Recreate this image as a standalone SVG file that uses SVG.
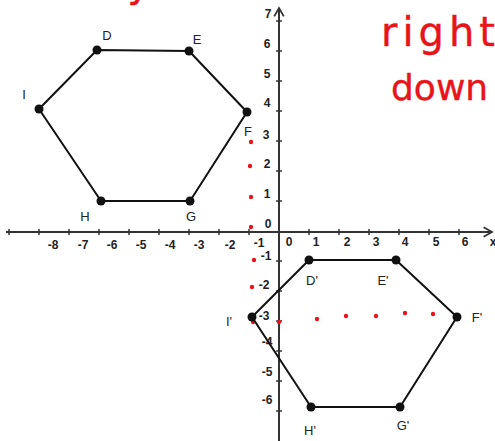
<svg xmlns="http://www.w3.org/2000/svg" width="495" height="441" viewBox="0 0 495 441">
<defs>
<style>
.axis{stroke:#333;stroke-width:2;fill:none}
.tick{stroke:#333;stroke-width:1.5}
.edge{stroke:#111;stroke-width:2;fill:none;stroke-linejoin:round}
.pt{fill:#111}
.lbl{font-family:"Liberation Sans",Arial,sans-serif;font-size:13px;fill:#222;text-anchor:middle}
.num{font-family:"Liberation Sans",Arial,sans-serif;font-size:12px;font-weight:bold;fill:#222;text-anchor:middle}
.red{fill:#e8141b}
.hand{font-family:"DejaVu Sans",sans-serif;fill:#e8141b;stroke:#e8141b;stroke-width:0.4}
</style>
<marker id="arr" viewBox="0 0 10 10" refX="8" refY="5" markerWidth="6" markerHeight="6" orient="auto-start-reverse">
<path d="M1,1 L8,5 L1,9" fill="none" stroke="#333" stroke-width="1.5"/>
</marker>
</defs>
<rect width="495" height="441" fill="#fff"/>

<g id="handwriting">
<text class="hand" x="139" y="-4" font-size="40" text-anchor="middle">y</text>
<text class="hand" x="381" y="46" font-size="40" letter-spacing="5">right</text>
<text class="hand" x="391" y="100" font-size="36">down</text>
</g>

<g id="axes">
<line class="axis" x1="6" y1="232" x2="492" y2="232" marker-end="url(#arr)"/>
<line class="axis" x1="279" y1="441" x2="279" y2="8" marker-end="url(#arr)"/>
<g class="tick">
<line x1="9" y1="229" x2="9" y2="235"/><line x1="39" y1="229" x2="39" y2="235"/><line x1="69" y1="229" x2="69" y2="235"/><line x1="99" y1="229" x2="99" y2="235"/><line x1="129" y1="229" x2="129" y2="235"/><line x1="159" y1="229" x2="159" y2="235"/><line x1="189" y1="229" x2="189" y2="235"/><line x1="219" y1="229" x2="219" y2="235"/><line x1="249" y1="229" x2="249" y2="235"/><line x1="309" y1="229" x2="309" y2="235"/><line x1="339" y1="229" x2="339" y2="235"/><line x1="369" y1="229" x2="369" y2="235"/><line x1="399" y1="229" x2="399" y2="235"/><line x1="429" y1="229" x2="429" y2="235"/><line x1="459" y1="229" x2="459" y2="235"/>
<line x1="276" y1="21" x2="282" y2="21"/><line x1="276" y1="51" x2="282" y2="51"/><line x1="276" y1="81" x2="282" y2="81"/><line x1="276" y1="111" x2="282" y2="111"/><line x1="276" y1="141" x2="282" y2="141"/><line x1="276" y1="171" x2="282" y2="171"/><line x1="276" y1="201" x2="282" y2="201"/><line x1="276" y1="261" x2="282" y2="261"/><line x1="276" y1="291" x2="282" y2="291"/><line x1="276" y1="321" x2="282" y2="321"/><line x1="276" y1="351" x2="282" y2="351"/><line x1="276" y1="381" x2="282" y2="381"/><line x1="276" y1="411" x2="282" y2="411"/>
</g>
<g class="num">
<text x="53" y="249">-8</text><text x="83" y="249">-7</text><text x="112" y="249">-6</text><text x="141" y="249">-5</text><text x="170" y="249">-4</text><text x="199" y="249">-3</text><text x="230" y="249">-2</text><text x="259" y="247">-1</text>
<text x="289" y="246">0</text><text x="316" y="246">1</text><text x="347" y="246">2</text><text x="376" y="246">3</text><text x="405" y="246">4</text><text x="436" y="246">5</text><text x="465" y="246">6</text><text x="493" y="246">x</text>
<text x="268" y="18">7</text><text x="267" y="48">6</text><text x="267" y="78">5</text><text x="267" y="107">4</text><text x="266" y="139">3</text><text x="267" y="168">2</text><text x="267" y="198">1</text><text x="268" y="228">0</text>
<text x="266" y="260">-1</text><text x="264" y="289">-2</text><text x="264" y="320">-3</text><text x="267" y="346">-4</text><text x="267" y="376">-5</text><text x="267" y="404">-6</text>
</g>
</g>

<g id="red-dots" class="red">
<circle cx="251" cy="142" r="2.2"/><circle cx="250" cy="166" r="2.2"/><circle cx="251" cy="197" r="2.2"/><circle cx="251" cy="227" r="2.2"/><circle cx="254" cy="260" r="2.2"/><circle cx="252" cy="287" r="2.2"/><circle cx="253" cy="322" r="2.2"/>
<circle cx="279" cy="322" r="2.2"/><circle cx="317" cy="319" r="2.2"/><circle cx="346" cy="316" r="2.2"/><circle cx="376" cy="316" r="2.2"/><circle cx="405" cy="313" r="2.2"/><circle cx="433" cy="314" r="2.2"/>
</g>

<g id="connectors">
<polygon class="edge" points="97,50 189,51 247,112 190,201 101,201 39,109"/>
<polygon class="edge" points="309,260 396,260 457,317 400,407 311,407 252,317"/>
</g>

<g id="D"><circle class="pt" cx="97" cy="50" r="4.5"/><text class="lbl" x="107" y="40">D</text></g>
<g id="E"><circle class="pt" cx="189" cy="51" r="4.5"/><text class="lbl" x="197" y="44">E</text></g>
<g id="F"><circle class="pt" cx="247" cy="112" r="4.5"/><text class="lbl" x="248" y="136">F</text></g>
<g id="G"><circle class="pt" cx="190" cy="201" r="4.5"/><text class="lbl" x="191" y="221">G</text></g>
<g id="H"><circle class="pt" cx="101" cy="201" r="4.5"/><text class="lbl" x="85" y="221">H</text></g>
<g id="I"><circle class="pt" cx="39" cy="109" r="4.5"/><text class="lbl" x="24" y="99">I</text></g>

<g id="D2"><circle class="pt" cx="309" cy="260" r="4.5"/><text class="lbl" x="312" y="285">D'</text></g>
<g id="E2"><circle class="pt" cx="396" cy="260" r="4.5"/><text class="lbl" x="383" y="285">E'</text></g>
<g id="F2"><circle class="pt" cx="457" cy="317" r="4.5"/><text class="lbl" x="477" y="322">F'</text></g>
<g id="G2"><circle class="pt" cx="400" cy="407" r="4.5"/><text class="lbl" x="403" y="430">G'</text></g>
<g id="H2"><circle class="pt" cx="311" cy="407" r="4.5"/><text class="lbl" x="310" y="435">H'</text></g>
<g id="I2"><circle class="pt" cx="252" cy="317" r="4.5"/><text class="lbl" x="229" y="326">I'</text></g>
</svg>
